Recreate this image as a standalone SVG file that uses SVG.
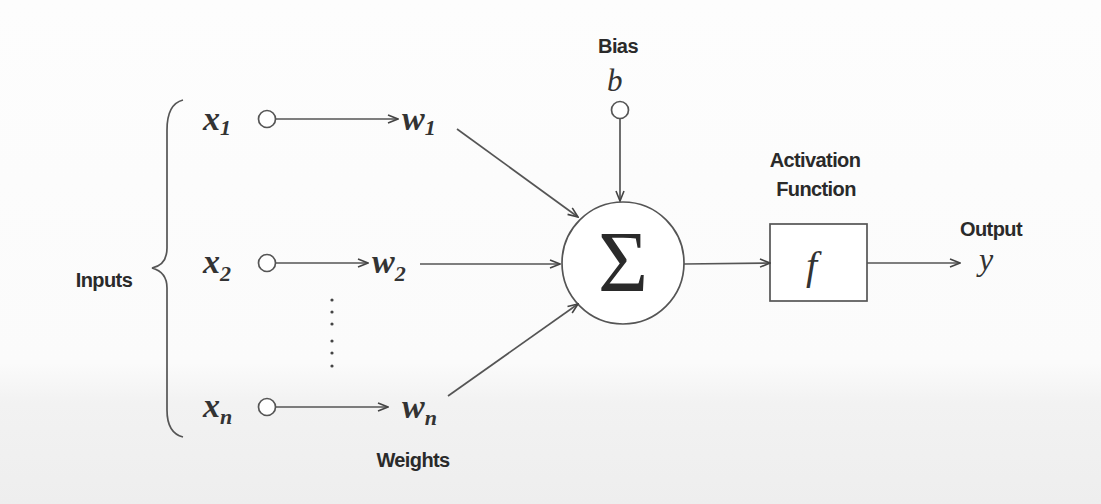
<svg xmlns="http://www.w3.org/2000/svg" width="1101" height="504" viewBox="0 0 1101 504">
<defs>
<linearGradient id="bg" x1="0" y1="0" x2="0" y2="1">
<stop offset="0" stop-color="#fdfdfd"/>
<stop offset="0.72" stop-color="#fbfbfb"/>
<stop offset="0.8" stop-color="#f2f2f2"/>
<stop offset="1" stop-color="#eeeeee"/>
</linearGradient>
<marker id="arr" viewBox="0 0 12 10" refX="11" refY="5" markerWidth="12" markerHeight="10" markerUnits="userSpaceOnUse" orient="auto">
<path d="M1,1 L11,5 L1,9" fill="none" stroke="#444" stroke-width="1.6"/>
</marker>
<style>
.ln{stroke:#555;stroke-width:1.7;fill:none}
.node{fill:#fff;stroke:#555;stroke-width:1.7}
.lbl{font-family:"Liberation Sans",Arial,sans-serif;font-weight:bold;font-size:20px;fill:#2a2a2a;text-anchor:middle;letter-spacing:-0.6px}
.math{font-family:"Liberation Serif","Times New Roman",serif;font-style:italic;font-weight:bold;font-size:34px;fill:#333}
.sub{font-family:"Liberation Serif","Times New Roman",serif;font-style:italic;font-weight:bold;font-size:22px;fill:#333}
</style>
</defs>
<rect width="1101" height="504" fill="url(#bg)"/>

<g id="inputs-brace">
<path class="ln" d="M183,100 Q167,104 167,130 L167,248 Q167,265 152,268 Q167,272 167,288 L167,410 Q167,433 183,437"/>
<text class="lbl" x="104" y="287">Inputs</text>
</g>

<g id="x1">
<text class="math" x="203" y="130">x<tspan class="sub" dy="5">1</tspan></text>
<circle class="node" cx="267" cy="119" r="8.5"/>
</g>
<g id="x2">
<text class="math" x="203" y="273">x<tspan class="sub" dy="8">2</tspan></text>
<circle class="node" cx="267" cy="263" r="8.5"/>
</g>
<g id="xn">
<text class="math" x="203" y="417">x<tspan class="sub" dy="7">n</tspan></text>
<circle class="node" cx="267" cy="407" r="8.5"/>
</g>

<g id="w1"><text class="math" x="402" y="130">w<tspan class="sub" dy="5">1</tspan></text></g>
<g id="w2"><text class="math" x="372" y="273">w<tspan class="sub" dy="8">2</tspan></text></g>
<g id="wn"><text class="math" x="402" y="418">w<tspan class="sub" dy="7">n</tspan></text></g>

<g id="dots" fill="#444">
<circle cx="332" cy="300" r="1.6"/>
<circle cx="332" cy="312" r="1.6"/>
<circle cx="332" cy="324" r="1.6"/>
<circle cx="332" cy="341" r="1.6"/>
<circle cx="332" cy="353" r="1.6"/>
<circle cx="332" cy="366" r="1.6"/>
</g>

<g id="weights-label"><text class="lbl" x="413" y="467">Weights</text></g>

<g id="bias">
<text class="lbl" x="618" y="53">Bias</text>
<text class="math" x="607" y="91" style="font-size:31px;font-weight:normal">b</text>
<circle class="node" cx="620" cy="110" r="8.5"/>
</g>

<g id="sum">
<circle class="node" cx="623" cy="263" r="61"/>
<text x="623" y="291" text-anchor="middle" style="font-family:'Liberation Serif','Times New Roman',serif;font-size:86px;fill:#2a2a2a">Σ</text>
</g>

<g id="activation">
<text class="lbl" x="815" y="167">Activation</text>
<text class="lbl" x="816" y="196">Function</text>
<rect class="node" x="770" y="224" width="97" height="77"/>
<text class="math" x="806" y="279" style="font-size:40px;font-weight:normal">f</text>
</g>

<g id="output">
<text class="lbl" x="991" y="236">Output</text>
<text class="math" x="979" y="270" style="font-size:32px;font-weight:normal">y</text>
</g>

<g id="connectors" class="ln">
<line x1="276" y1="119" x2="398" y2="119" marker-end="url(#arr)"/>
<line x1="276" y1="263" x2="368" y2="263" marker-end="url(#arr)"/>
<line x1="276" y1="407" x2="388" y2="407" marker-end="url(#arr)"/>
<line x1="457" y1="129" x2="578" y2="217" marker-end="url(#arr)"/>
<line x1="420" y1="264" x2="560" y2="264" marker-end="url(#arr)"/>
<line x1="448" y1="396" x2="578" y2="304" marker-end="url(#arr)"/>
<line x1="620" y1="119" x2="620" y2="201" marker-end="url(#arr)"/>
<line x1="684" y1="264" x2="770" y2="263" marker-end="url(#arr)"/>
<line x1="867" y1="263" x2="960" y2="263" marker-end="url(#arr)"/>
</g>
</svg>
